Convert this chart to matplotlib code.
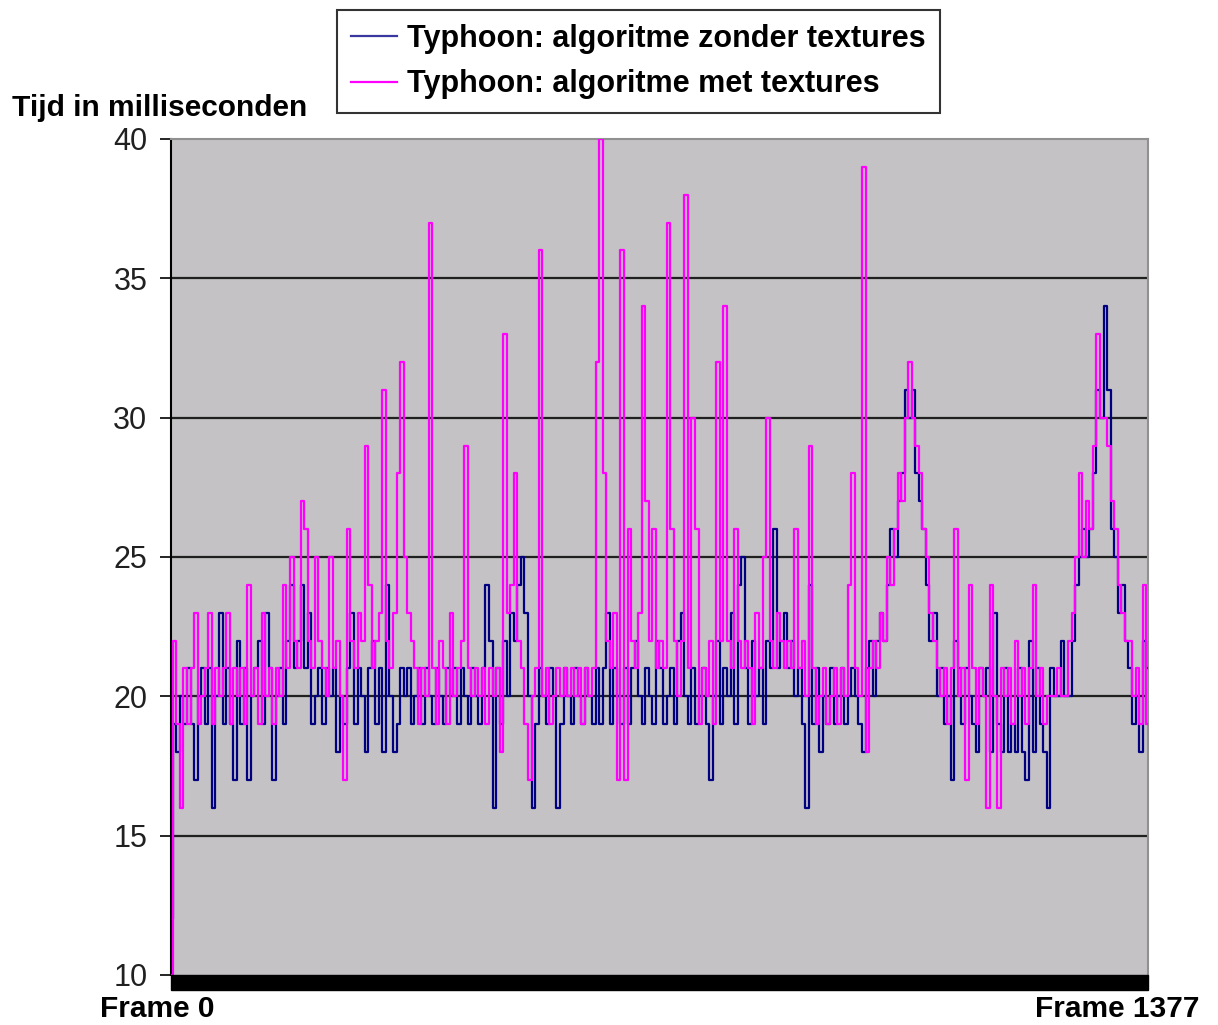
import numpy as np
import matplotlib
matplotlib.use("Agg")
import matplotlib.pyplot as plt
from matplotlib.patches import Rectangle

plt.rcParams['font.family'] = ['Liberation Sans', 'DejaVu Sans']

# frame times in ms (one sample every ~5 frames)
zonder_textures = [
    12, 19, 18, 20, 19, 21, 19, 17, 20, 21, 19, 21, 16, 20, 23, 19, 21, 19, 17, 22, 19, 21, 17,
    20, 21, 22, 19, 23, 21, 17, 20, 21, 19, 22, 24, 21, 22, 24, 21, 23, 19, 20, 21, 19, 21, 20,
    21, 18, 20, 19, 21, 23, 19, 21, 20, 18, 21, 22, 19, 21, 18, 24, 20, 18, 19, 21, 20, 21, 19,
    20, 21, 19, 21, 20, 19, 21, 20, 19, 21, 20, 21, 19, 21, 20, 19, 21, 20, 19, 21, 24, 22, 16,
    21, 19, 22, 20, 23, 22, 24, 25, 23, 20, 16, 19, 21, 20, 19, 21, 20, 16, 19, 21, 20, 19, 21,
    20, 19, 21, 20, 19, 21, 19, 21, 23, 19, 21, 20, 19, 21, 19, 21, 22, 20, 19, 21, 20, 19, 22,
    21, 19, 20, 21, 19, 22, 23, 20, 19, 21, 19, 20, 21, 19, 17, 20, 22, 19, 21, 20, 23, 19, 24,
    25, 21, 19, 22, 20, 21, 19, 22, 21, 26, 21, 22, 23, 21, 22, 20, 21, 19, 16, 24, 19, 21, 18,
    20, 19, 21, 19, 20, 21, 19, 20, 21, 20, 19, 18, 21, 22, 20, 22, 23, 22, 24, 26, 25, 27, 28,
    31, 30, 31, 28, 27, 26, 24, 22, 23, 20, 21, 19, 20, 17, 22, 21, 19, 21, 20, 19, 18, 21, 20,
    21, 18, 23, 19, 18, 21, 18, 19, 18, 21, 18, 17, 22, 18, 21, 19, 18, 16, 21, 20, 20, 22, 20,
    20, 22, 24, 25, 26, 25, 26, 28, 31, 30, 34, 31, 26, 25, 23, 24, 22, 21, 19, 20, 18, 22, 21,
]

met_textures = [
    10, 22, 19, 16, 21, 19, 21, 23, 19, 20, 21, 23, 19, 21, 20, 21, 23, 19, 21, 20, 21, 19, 24,
    20, 21, 19, 23, 20, 21, 19, 21, 20, 24, 21, 25, 22, 21, 27, 26, 22, 21, 25, 22, 21, 20, 25,
    21, 22, 20, 17, 26, 22, 21, 23, 22, 29, 24, 21, 22, 23, 31, 22, 21, 23, 28, 32, 25, 23, 22,
    21, 19, 21, 20, 37, 21, 19, 22, 21, 19, 23, 20, 21, 22, 29, 21, 20, 21, 20, 21, 19, 21, 20,
    21, 18, 33, 23, 24, 28, 22, 21, 19, 17, 20, 21, 36, 20, 21, 19, 20, 21, 20, 21, 20, 21, 20,
    21, 19, 21, 20, 21, 32, 40, 28, 22, 21, 23, 17, 36, 17, 26, 22, 21, 23, 34, 27, 22, 26, 21,
    22, 21, 37, 26, 22, 20, 22, 38, 21, 30, 26, 19, 21, 20, 22, 19, 32, 22, 34, 22, 21, 26, 22,
    21, 22, 21, 19, 23, 21, 25, 30, 22, 21, 23, 22, 21, 22, 21, 26, 21, 22, 20, 29, 21, 19, 20,
    21, 19, 20, 21, 19, 21, 20, 24, 28, 21, 20, 39, 18, 21, 22, 21, 23, 22, 25, 24, 26, 28, 27,
    30, 32, 30, 29, 28, 26, 25, 23, 22, 21, 20, 21, 19, 21, 26, 20, 21, 17, 24, 21, 19, 21, 20,
    16, 24, 20, 16, 21, 20, 21, 19, 22, 20, 21, 19, 21, 24, 20, 21, 19, 20, 20, 20, 21, 20, 20,
    22, 23, 25, 28, 25, 27, 26, 29, 33, 30, 30, 29, 27, 26, 24, 23, 22, 22, 20, 21, 19, 24, 19,
]

last_frame = 1377
y_ticks = [10, 15, 20, 25, 30, 35, 40]

frames_b = np.linspace(0, last_frame, len(zonder_textures))
frames_m = np.linspace(0, last_frame, len(met_textures))

fig = plt.figure(figsize=(12.18, 10.25), dpi=100)
ax = fig.add_axes([0.1404, 0.0488, 0.8021, 0.8156])
ax.set_facecolor('#c4c2c4')

ax.plot(frames_b, zonder_textures, color='#000080', linewidth=1.6,
        drawstyle='steps-mid', label='Typhoon: algoritme zonder textures', zorder=3)
ax.plot(frames_m, met_textures, color='#ff00ff', linewidth=1.6,
        drawstyle='steps-mid', label='Typhoon: algoritme met textures', zorder=4)

ax.set_xlim(0, last_frame)
ax.set_ylim(10, 40)
ax.set_yticks(y_ticks)
ax.set_yticklabels([str(t) for t in y_ticks], fontsize=22, color='#202020')
ax.set_xticks([])
ax.tick_params(axis='y', length=8, width=1.2, pad=9)

for t in [15, 20, 25, 30, 35]:
    ax.axhline(t, color='#202020', linewidth=1.6, zorder=1)

for side in ['top', 'right']:
    ax.spines[side].set_color('#909090')
    ax.spines[side].set_linewidth(1.5)
ax.spines['left'].set_color('black')
ax.spines['left'].set_linewidth(1.5)
ax.spines['bottom'].set_visible(False)

# thick black floor of the chart
ax.add_patch(Rectangle((0, -0.018), 1, 0.018, transform=ax.transAxes,
                       color='black', clip_on=False, zorder=5))

fig.text(0.010, 0.895, 'Tijd in milliseconden', fontsize=21.5,
         fontweight='bold', va='center', ha='left')
fig.text(0.082, 0.016, 'Frame 0', fontsize=21.5, fontweight='bold',
         va='center', ha='left')
fig.text(0.985, 0.016, 'Frame 1377', fontsize=21.5, fontweight='bold',
         va='center', ha='right')

leg = fig.legend(loc='upper left', bbox_to_anchor=(0.2767, 0.990),
                 prop={'weight': 'bold', 'size': 22},
                 frameon=True, fancybox=False, edgecolor='black',
                 handlelength=1.5, handletextpad=0.35, borderpad=0.45,
                 labelspacing=0.5, borderaxespad=0)
leg.get_frame().set_linewidth(1.5)
leg.legend_handles[0].set_color('#3838a0')

plt.savefig('out.png', dpi=100)
